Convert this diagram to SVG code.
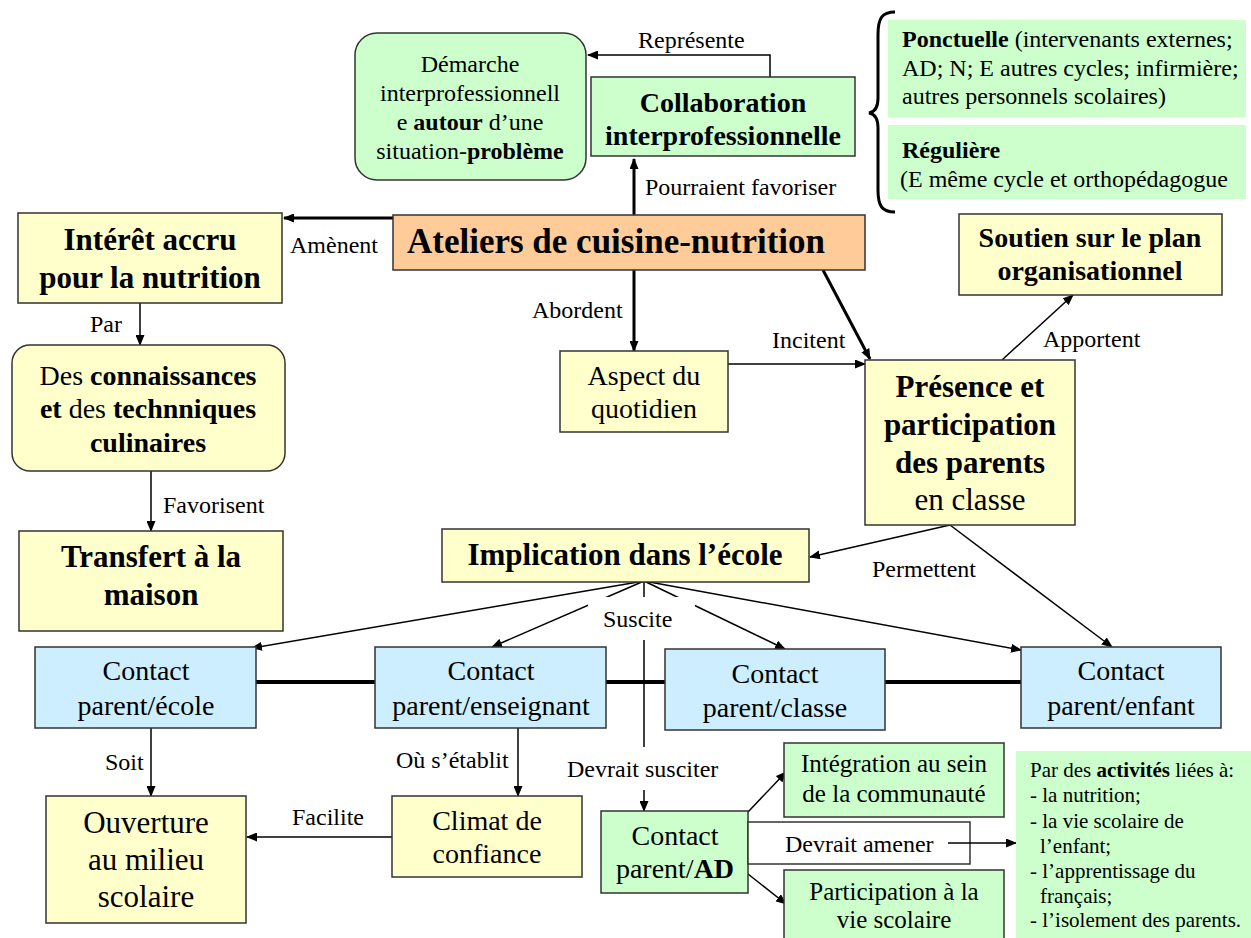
<svg xmlns="http://www.w3.org/2000/svg" width="1251" height="938" viewBox="0 0 1251 938">
<defs>
<style>
text{font-family:"Liberation Serif","Times New Roman",serif;fill:#000}
.b{font-weight:bold}
.lbl{font-size:24px}
.y{fill:#ffffcc;stroke:#333;stroke-width:1.5}
.g{fill:#ccffcc;stroke:#333;stroke-width:1.5}
.gn{fill:#ccffcc;stroke:none}
.bl{fill:#cceeff;stroke:#333;stroke-width:1.5}
.o{fill:#ffcc99;stroke:#333;stroke-width:1.5}
.w{fill:#fff;stroke:#333;stroke-width:1.5}
.c{fill:none;stroke:#000;stroke-width:1.5}
.ca{fill:none;stroke:#000;stroke-width:1.5;marker-end:url(#ah)}
.ct{fill:none;stroke:#000;stroke-width:3;marker-end:url(#ah)}
.th{fill:none;stroke:#000;stroke-width:4}
.m{text-anchor:middle}
</style>
<marker id="ah" markerUnits="userSpaceOnUse" markerWidth="11" markerHeight="9" refX="10" refY="4.5" orient="auto">
<path d="M0,0 L11,4.5 L0,9 z" fill="#000"/>
</marker>
</defs>
<rect width="1251" height="938" fill="#fff"/>

<g id="connectors">
<polyline class="ca" points="770,77 770,55 588,55"/>
<line class="ct" x1="634" y1="215" x2="634" y2="159"/>
<line class="ct" x1="393" y1="218" x2="284" y2="218"/>
<line class="ca" x1="140" y1="303" x2="140" y2="345"/>
<line class="ca" x1="151" y1="471" x2="151" y2="531"/>
<line class="ct" x1="634" y1="270" x2="634" y2="351"/>
<line class="ct" x1="823" y1="270" x2="870" y2="359"/>
<line class="ca" x1="728" y1="364" x2="865" y2="364"/>
<line class="ca" x1="1002" y1="360" x2="1073" y2="295"/>
<line class="ca" x1="950" y1="525" x2="810" y2="557"/>
<line class="ca" x1="950" y1="525" x2="1112" y2="647"/>
<line class="ca" x1="644" y1="581" x2="252" y2="648"/>
<line class="ca" x1="644" y1="581" x2="492" y2="647"/>
<line class="ca" x1="644" y1="581" x2="785" y2="649"/>
<line class="ca" x1="644" y1="581" x2="1021" y2="650"/>
<line class="ca" x1="644" y1="581" x2="644" y2="811"/>
<line class="th" x1="256" y1="682" x2="375" y2="682"/>
<line class="th" x1="606" y1="682" x2="665" y2="682"/>
<line class="th" x1="885" y1="682" x2="1021" y2="682"/>
<line class="ca" x1="151" y1="728" x2="151" y2="796"/>
<line class="ca" x1="518" y1="728" x2="518" y2="796"/>
<line class="ca" x1="392" y1="837" x2="247" y2="837"/>
<line class="ca" x1="748" y1="812" x2="786" y2="772"/>
<line class="ca" x1="748" y1="874" x2="786" y2="904"/>
<path d="M895 12 C882 12,878 18,878 35 L878 98 C878 108,875 112,869 113 C875 114,878 118,878 128 L878 190 C878 206,882 212,895 212" fill="none" stroke="#000" stroke-width="3"/>
<text class="lbl" x="638" y="48">Représente</text>
<text class="lbl" x="645" y="195">Pourraient favoriser</text>
<text class="lbl" x="290" y="253">Amènent</text>
<text class="lbl" x="90" y="332">Par</text>
<text class="lbl" x="163" y="513">Favorisent</text>
<text class="lbl" x="532" y="318">Abordent</text>
<text class="lbl" x="772" y="348">Incitent</text>
<text class="lbl" x="1043" y="347">Apportent</text>
<text class="lbl" x="872" y="577">Permettent</text>
<rect x="588" y="597" width="107" height="43" fill="#fff"/>
<text class="lbl" x="603" y="627">Suscite</text>
<rect x="565" y="747" width="156" height="43" fill="#fff"/>
<text class="lbl" x="567" y="777">Devrait susciter</text>
<text class="lbl" x="105" y="770">Soit</text>
<text class="lbl" x="396" y="768">Où s’établit</text>
<text class="lbl" x="292" y="825">Facilite</text>
</g>

<g id="demarche">
<rect class="g" x="355" y="33" width="231" height="147" rx="22"/>
<text class="m" font-size="24" x="470" y="72">Démarche</text>
<text class="m" font-size="24" x="470" y="101">interprofessionnell</text>
<text class="m" font-size="24" x="470" y="130">e <tspan class="b">autour</tspan> d’une</text>
<text class="m" font-size="24" x="470" y="159">situation-<tspan class="b">problème</tspan></text>
</g>

<g id="collaboration">
<rect class="g" x="591" y="77" width="264" height="79"/>
<text class="m b" font-size="28" x="723" y="112">Collaboration</text>
<text class="m b" font-size="28" x="723" y="145">interprofessionnelle</text>
</g>

<g id="ponctuelle">
<rect class="gn" x="888" y="20" width="358" height="97"/>
<text font-size="24" x="902" y="47"><tspan class="b">Ponctuelle</tspan> (intervenants externes;</text>
<text font-size="24" x="902" y="76">AD; N; E autres cycles; infirmière;</text>
<text font-size="24" x="902" y="104">autres personnels scolaires)</text>
</g>

<g id="reguliere">
<rect class="gn" x="888" y="125" width="358" height="74"/>
<text class="b" font-size="24" x="902" y="158">Régulière</text>
<text font-size="24" x="900" y="187">(E même cycle et orthopédagogue</text>
</g>

<g id="ateliers">
<rect class="o" x="393" y="215" width="472" height="55"/>
<text class="b" font-size="35" x="407" y="253">Ateliers de cuisine-nutrition</text>
</g>

<g id="interet">
<rect class="y" x="18" y="213" width="264" height="90"/>
<text class="m b" font-size="31" x="150" y="250">Intérêt accru</text>
<text class="m b" font-size="31" x="150" y="288">pour la nutrition</text>
</g>

<g id="connaissances">
<rect class="y" x="12" y="345" width="273" height="126" rx="18"/>
<text class="m" font-size="28" x="148" y="385">Des <tspan class="b">connaissances</tspan></text>
<text class="m" font-size="28" x="148" y="418"><tspan class="b">et</tspan> des <tspan class="b">technniques</tspan></text>
<text class="m b" font-size="28" x="148" y="452">culinaires</text>
</g>

<g id="transfert">
<rect class="y" x="19" y="531" width="264" height="100"/>
<text class="m b" font-size="31" x="151" y="567">Transfert à la</text>
<text class="m b" font-size="31" x="151" y="605">maison</text>
</g>

<g id="aspect">
<rect class="y" x="560" y="351" width="168" height="81"/>
<text class="m" font-size="28" x="644" y="385">Aspect du</text>
<text class="m" font-size="28" x="644" y="418">quotidien</text>
</g>

<g id="soutien">
<rect class="y" x="959" y="214" width="263" height="81"/>
<text class="m b" font-size="28" x="1090" y="247">Soutien sur le plan</text>
<text class="m b" font-size="28" x="1090" y="280">organisationnel</text>
</g>

<g id="presence">
<rect class="y" x="865" y="360" width="210" height="165"/>
<text class="m b" font-size="31" x="970" y="397">Présence et</text>
<text class="m b" font-size="31" x="970" y="435">participation</text>
<text class="m b" font-size="31" x="970" y="473">des parents</text>
<text class="m" font-size="31" x="970" y="510">en classe</text>
</g>

<g id="implication">
<rect class="y" x="442" y="529" width="367" height="53"/>
<text class="m b" font-size="31" x="625" y="565">Implication dans l’école</text>
</g>

<g id="contact-ecole">
<rect class="bl" x="35" y="647" width="221" height="81"/>
<text class="m" font-size="28" x="146" y="680">Contact</text>
<text class="m" font-size="28" x="146" y="715">parent/école</text>
</g>

<g id="contact-enseignant">
<rect class="bl" x="375" y="647" width="231" height="81"/>
<text class="m" font-size="28" x="491" y="680">Contact</text>
<text class="m" font-size="28" x="491" y="715">parent/enseignant</text>
</g>

<g id="contact-classe">
<rect class="bl" x="665" y="649" width="220" height="81"/>
<text class="m" font-size="28" x="775" y="683">Contact</text>
<text class="m" font-size="28" x="775" y="717">parent/classe</text>
</g>

<g id="contact-enfant">
<rect class="bl" x="1021" y="647" width="200" height="81"/>
<text class="m" font-size="28" x="1121" y="680">Contact</text>
<text class="m" font-size="28" x="1121" y="715">parent/enfant</text>
</g>

<g id="ouverture">
<rect class="y" x="46" y="796" width="200" height="127"/>
<text class="m" font-size="31" x="146" y="833">Ouverture</text>
<text class="m" font-size="31" x="146" y="870">au milieu</text>
<text class="m" font-size="31" x="146" y="907">scolaire</text>
</g>

<g id="climat">
<rect class="y" x="392" y="796" width="190" height="81"/>
<text class="m" font-size="28" x="487" y="830">Climat de</text>
<text class="m" font-size="28" x="487" y="863">confiance</text>
</g>

<g id="contact-ad">
<rect class="g" x="601" y="811" width="147" height="82"/>
<text class="m" font-size="28" x="675" y="845">Contact</text>
<text class="m" font-size="28" x="675" y="878">parent/<tspan class="b">AD</tspan></text>
</g>

<g id="integration">
<rect class="g" x="784" y="743" width="220" height="74"/>
<text class="m" font-size="25" x="894" y="772">Intégration au sein</text>
<text class="m" font-size="25" x="894" y="802">de la communauté</text>
</g>

<g id="participation">
<rect class="g" x="784" y="870" width="220" height="72"/>
<text class="m" font-size="25" x="894" y="900">Participation à la</text>
<text class="m" font-size="25" x="894" y="928">vie scolaire</text>
</g>

<g id="devrait-amener">
<rect class="w" x="748" y="822" width="222" height="42"/>
<text class="lbl" x="785" y="852">Devrait amener</text>
<line class="ca" x1="948" y1="843" x2="1016" y2="843"/>
</g>

<g id="activites">
<rect class="gn" x="1016" y="751" width="235" height="190"/>
<text font-size="21" x="1030" y="777">Par des <tspan class="b">activités</tspan> liées à:</text>
<text font-size="21" x="1030" y="802">- la nutrition;</text>
<text font-size="21" x="1030" y="828">- la vie scolaire de</text>
<text font-size="21" x="1040" y="853">l’enfant;</text>
<text font-size="21" x="1030" y="878">- l’apprentissage du</text>
<text font-size="21" x="1040" y="903">français;</text>
<text font-size="21" x="1030" y="927">- l’isolement des parents.</text>
</g>
</svg>
